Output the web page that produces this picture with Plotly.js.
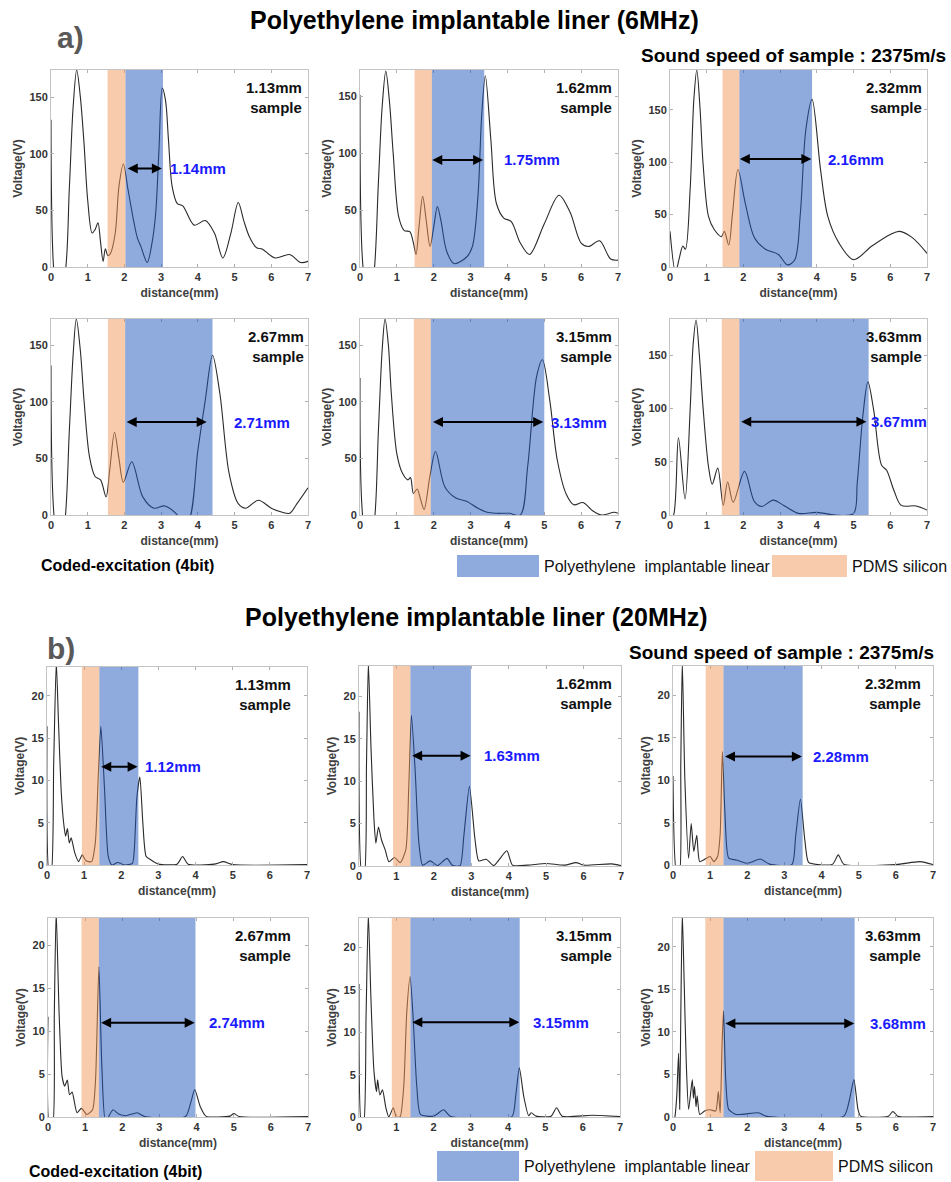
<!DOCTYPE html>
<html><head><meta charset="utf-8">
<script src="https://cdn.plot.ly/plotly-3.0.1.min.js"></script>
<style>body{margin:0;background:#fff}#chart{width:951px;height:1182px}</style>
</head><body><div id="chart"></div>
<script>
// ---------- data ----------
const a1Dist = [0,0.1,0.2,0.36,0.5,0.6,0.7,0.8,0.9,1.0,1.12,1.2,1.28,1.35,1.42,1.48,1.55,1.62,1.75,1.85,1.97,2.1,2.25,2.35,2.45,2.62,2.75,2.85,2.94,3.03,3.12,3.2,3.3,3.44,3.59,3.9,4.2,4.45,4.68,4.9,5.1,5.25,5.4,5.6,5.75,6.1,6.5,6.8,7.0];
const a1Volt = [130,-10,-20,-10,70,140,174,150,109,59,30,33,39,22,5,16,10,12,30,71,91,68,41,26,18,4,21,47,103,158,147,112,71,56,54,37,41,30,8,30,57,41,27,17,16,8,11,4,5];
const a2Dist = [0,0.12,0.25,0.36,0.5,0.6,0.7,0.8,0.9,1.05,1.2,1.35,1.45,1.52,1.6,1.7,1.8,1.9,2.0,2.1,2.2,2.35,2.55,2.9,3.05,3.2,3.3,3.4,3.55,3.7,3.9,4.1,4.35,4.6,5.0,5.4,5.7,6.0,6.2,6.5,6.8,7.0];
const a2Volt = [151,-10,-20,-10,75,140,172,145,100,44,32,31,21,11,35,62,40,18,35,53,40,14,3,9,18,62,132,168,112,56,43,40,21,11,38,63,48,21,18,23,7,6];
const a3Dist = [0,0.15,0.25,0.35,0.42,0.55,0.65,0.73,0.82,0.9,1.05,1.2,1.4,1.48,1.6,1.7,1.85,2.05,2.3,2.6,2.95,3.2,3.4,3.55,3.7,3.87,4.1,4.3,4.6,5.0,5.5,6.0,6.25,6.6,7.0];
const a3Volt = [34,-5,8,20,17,75,160,188,150,99,48,36,29,34,21,50,93,61,28,17,12,2,7,51,131,160,93,48,23,7,20,31,34,28,13];
const a4Dist = [0,0.12,0.25,0.36,0.5,0.6,0.69,0.8,0.9,1.05,1.2,1.35,1.5,1.6,1.73,1.85,1.97,2.2,2.5,2.8,3.1,3.4,3.55,3.74,4.0,4.2,4.4,4.6,4.85,5.1,5.3,5.65,6.0,6.3,6.5,6.7,7.0];
const a4Volt = [132,-10,-20,-10,75,140,173,145,101,51,34,31,16,40,73,50,29,47,16,6,8,1.5,-5,-5,57,101,141,107,37,10,6,13,6,2.4,1.5,10,24];
const a5Dist = [0,0.11,0.25,0.37,0.5,0.6,0.68,0.77,0.85,1.0,1.15,1.3,1.37,1.45,1.55,1.65,1.74,1.9,2.05,2.3,2.6,2.9,3.2,3.45,3.7,4.05,4.35,4.55,4.79,4.95,5.15,5.35,5.6,5.8,6.05,6.3,6.55,6.9,7.0];
const a5Volt = [121,-10,-20,-10,75,145,173,150,107,54,37,31,33,19,23,13,5,35,56,25,15,12,6,2.4,1.5,1.5,0,43,122,137,101,49,18,9,11,4,0,2.4,1.5];
const a6Dist = [0,0.1,0.23,0.41,0.55,0.63,0.71,0.8,0.9,1.05,1.15,1.3,1.45,1.57,1.72,2.03,2.3,2.5,2.81,3.1,3.5,4.0,4.5,5.0,5.1,5.25,5.39,5.55,5.76,5.9,6.1,6.3,6.7,7.0];
const a6Volt = [-5,0,72.5,15,100,160,183,150,101,45,29,44,9,31,12,41,12.5,8,14,9,1.5,2.5,0,1.5,30,92,125,98,47,42,23,9,8.5,4.7];

const b1Dist = [0,0.06,0.11,0.18,0.25,0.31,0.38,0.45,0.5,0.55,0.6,0.65,0.75,0.85,0.95,1.05,1.2,1.3,1.38,1.45,1.55,1.65,1.75,1.9,2.1,2.3,2.35,2.42,2.5,2.58,2.67,2.8,3.0,3.5,3.65,3.8,4.5,4.75,5.0,7.0];
const b1Volt = [16.4,-1,-1,12,24,16.8,8.9,4.9,3.4,4.3,2.6,3.2,1.4,0.4,1.2,0.5,0.4,2.6,10.5,16.4,8.9,1,0,0.3,0,0.2,1.8,8,10.4,5,1,0.6,0.1,0.1,1.0,0.1,0.1,0.4,0.05,0.05];
const b2Dist = [0,0.08,0.14,0.2,0.25,0.32,0.4,0.45,0.52,0.6,0.7,0.8,0.95,1.1,1.25,1.33,1.4,1.5,1.6,1.7,1.9,2.1,2.35,2.5,2.7,2.8,2.95,3.1,3.2,3.4,3.6,3.95,4.1,4.5,5.0,5.5,5.8,6.0,6.75,7.0];
const b2Volt = [18.2,-1,-1,12,24,14,5.5,2.7,4.6,3.1,1.9,0.5,1,0.4,1.9,9.4,17.8,11.3,2.7,0.1,0.6,0.05,0.9,0.05,0.05,3.5,9.4,3.1,0.6,0.8,0.05,1.8,0.1,0.1,0.3,0.1,0.4,0.1,0.25,0.05];
const b3Dist = [0,0.1,0.17,0.21,0.25,0.32,0.42,0.49,0.56,0.64,0.72,0.9,1.0,1.1,1.2,1.27,1.33,1.4,1.5,1.7,2.0,2.35,2.6,3.2,3.3,3.43,3.55,3.65,3.9,4.3,4.45,4.6,6.0,6.65,7.0];
const b3Volt = [10.5,-1,-1,12,24,10,0.8,4.9,1.6,3.5,0.4,0.8,1,0.4,1,3.7,13.4,6,0.8,0.6,0.2,0.7,0.1,0.05,3.3,7.8,2.9,0.3,0.05,0.1,1.2,0.1,0.05,0.4,0.05];
const b4Dist = [0,0.04,0.12,0.17,0.22,0.3,0.38,0.45,0.52,0.58,0.65,0.78,0.9,1.05,1.2,1.28,1.37,1.45,1.55,1.75,1.9,2.1,2.4,2.6,3.7,3.85,3.95,4.1,4.25,4.9,5.0,5.15,7.0];
const b4Volt = [11.7,-1,-1,12,24,12,4.7,3.6,4.3,2.6,2.9,0.5,1,0.3,0.85,4.3,17.5,5.9,-0.5,0.85,0.35,0.15,0.5,0.05,0.05,1.8,3.2,1.2,0.1,0.1,0.4,0.05,0.05];
const b5Dist = [0,0.07,0.12,0.19,0.25,0.32,0.4,0.47,0.5,0.56,0.63,0.72,0.8,0.92,1.0,1.1,1.2,1.28,1.37,1.45,1.55,1.65,2.0,2.27,2.45,4.1,4.2,4.3,4.42,4.55,4.62,4.75,5.15,5.3,5.45,6.25,7.0];
const b5Volt = [15.7,-1,-1,12,24,14,5.5,3.0,4.4,2.6,3.2,1.1,0,1.1,0,0,3.6,12.3,16.6,11.9,3.6,0.3,0.1,0.85,0.1,0.05,2.4,5.8,2.4,0.15,0.5,0.1,0.1,1.1,0.1,0.2,0.05];
const b6Dist = [0,0.05,0.1,0.15,0.18,0.21,0.25,0.3,0.36,0.42,0.52,0.55,0.58,0.62,0.65,0.72,0.85,1.0,1.15,1.22,1.27,1.32,1.36,1.42,1.5,1.7,2.3,2.5,4.6,4.75,4.87,4.98,5.05,5.8,5.92,6.05,7.0];
const b6Volt = [-0.5,0,2.4,7.5,0.9,12,24,16,6,0.9,4.4,2.2,3.6,1.2,2.5,0.3,0.7,0.85,0.7,3.0,0.5,8.3,12.5,4.4,0.9,0.3,0.5,0.1,0.1,2,4.4,0.9,0.1,0.1,0.65,0.1,0.05];

const distTicks = [0,1,2,3,4,5,6,7];
const voltTicks6MHz = [0,50,100,150];
const voltTicks20MHz = [0,5,10,15,20];
const sampleLabels = ['1.13mm','1.62mm','2.32mm','2.67mm','3.15mm','3.63mm'];
const thickness6MHz = ['1.14mm','1.75mm','2.16mm','2.71mm','3.13mm','3.67mm'];
const thickness20MHz = ['1.12mm','1.63mm','2.28mm','2.74mm','3.15mm','3.68mm'];
const pdmsStart6MHz = [1.54,1.48,1.43,1.55,1.46,1.41];
const linerStart6MHz = [2.03,1.95,1.89,2.02,1.92,1.89];
const linerEnd6MHz = [3.05,3.37,3.87,4.40,5.0,5.41];
const pdmsStart20MHz = [0.94,0.91,0.88,0.90,0.88,0.87];
const linerStart20MHz = [1.41,1.375,1.36,1.37,1.38,1.36];
const linerEnd20MHz = [2.46,2.99,3.49,3.97,4.31,4.89];
const arrowFrom6MHz = [2.05,1.92,1.86,2.02,1.94,1.9];
const arrowTo6MHz = [3.02,3.34,3.85,4.24,4.97,5.35];
const arrowLevel6MHz = [87,94,103,82,82,87.5];
const arrowFrom20MHz = [1.42,1.38,1.36,1.39,1.39,1.37];
const arrowTo20MHz = [2.44,2.98,3.47,3.95,4.3,4.88];
const arrowLevel20MHz = [11.6,13.0,12.8,11.0,11.2,11.0];

// ---------- layout constants ----------
const W = 951, H = 1182;
const FONT = 'Liberation Sans, Arial, sans-serif';
const boxes = [
  [51,308,70,267],[360,618,70,267],[670,927,70,267],
  [51,308,319,515],[360,618,319,515],[670,927,319,515],
  [47,307,667,865],[359,621,666,866],[673,933,666,865],
  [48,308,918,1117],[359,620,918,1117],[673,933,918,1117]
];
const yTop = [174,173,188,173,173,184,23.4,23.6,23.5,23.2,23.5,23.4];
const labelX6MHz = [3.2,3.85,4.26,4.92,5.13,5.42];
const labelX20MHz = [2.59,3.28,3.71,4.28,4.60,5.25];
const sampleShift = [-4,-4,-3,-2,-4,-3,-14,-7,-10,-15,-6,-10];
// translucent overlays that give #8FAADC / #F8CBAD over white
const LINER_FILL = 'rgba(31,85,185,0.5)';
const PDMS_FILL = 'rgba(241,151,91,0.5)';

const dists = [a1Dist,a2Dist,a3Dist,a4Dist,a5Dist,a6Dist,b1Dist,b2Dist,b3Dist,b4Dist,b5Dist,b6Dist];
const volts = [a1Volt,a2Volt,a3Volt,a4Volt,a5Volt,a6Volt,b1Volt,b2Volt,b3Volt,b4Volt,b5Volt,b6Volt];

const px = x => x / W, py = y => 1 - y / H;
const traces = [], shapes = [], annotations = [];
const layout = {
  width: W, height: H, margin: {l:0,r:0,t:0,b:0},
  paper_bgcolor: '#fff', plot_bgcolor: 'rgba(0,0,0,0)', showlegend: false,
  font: {family: FONT, color: '#333'}
};

for (let i = 0; i < 12; i++) {
  const n = i === 0 ? '' : String(i + 1);
  const is6 = i < 6, k = i % 6;
  const [l, r, t, b] = boxes[i];
  const axCommon = {
    showline: true, linecolor: '#c4c4c4', linewidth: 1, mirror: 'ticks',
    ticks: 'inside', ticklen: 3, tickcolor: '#b0b0b0', showgrid: false, zeroline: false,
    tickfont: {family: FONT, size: 11, color: '#333', weight: 'bold'}, fixedrange: true
  };
  layout['xaxis' + n] = Object.assign({}, axCommon, {
    domain: [px(l), px(r)], range: [0, 7], tickvals: distTicks, anchor: 'y' + n,
    title: {text: 'distance(mm)', font: {family: FONT, size: 12, color: '#404040', weight: 'bold'}, standoff: 6}
  });
  layout['yaxis' + n] = Object.assign({}, axCommon, {
    domain: [py(b), py(t)], range: [0, yTop[i]], tickvals: is6 ? voltTicks6MHz : voltTicks20MHz, anchor: 'x' + n,
    title: {text: 'Voltage(V)', font: {family: FONT, size: 12, color: '#404040', weight: 'bold'}, standoff: 4}
  });
  traces.push({
    x: dists[i], y: volts[i], xaxis: 'x' + n, yaxis: 'y' + n, type: 'scatter', mode: 'lines',
    line: {color: '#2a2a2a', width: 1.1, shape: 'spline', smoothing: is6 ? 0.9 : 0.6}, hoverinfo: 'skip'
  });
  const pS = is6 ? pdmsStart6MHz : pdmsStart20MHz;
  const lS = is6 ? linerStart6MHz : linerStart20MHz;
  const lE = is6 ? linerEnd6MHz : linerEnd20MHz;
  shapes.push({type:'rect', xref:'x'+n, yref:'y'+n+' domain', x0:pS[k], x1:lS[k], y0:0, y1:1,
    fillcolor:PDMS_FILL, line:{width:0}, layer:'above'});
  shapes.push({type:'rect', xref:'x'+n, yref:'y'+n+' domain', x0:lS[k], x1:lE[k], y0:0, y1:1,
    fillcolor:LINER_FILL, line:{width:0}, layer:'above'});
  const aF = is6 ? arrowFrom6MHz : arrowFrom20MHz;
  const aT = is6 ? arrowTo6MHz : arrowTo20MHz;
  const aL = is6 ? arrowLevel6MHz : arrowLevel20MHz;
  annotations.push({xref:'x'+n, yref:'y'+n, axref:'x'+n, ayref:'y'+n, x:aT[k], y:aL[k], ax:aF[k], ay:aL[k],
    text:'', showarrow:true, arrowhead:2, startarrowhead:2, arrowside:'end+start', arrowsize:1, startarrowsize:1,
    arrowwidth:2, arrowcolor:'#000'});
  annotations.push({xref:'x'+n, yref:'y'+n, x:(is6 ? labelX6MHz : labelX20MHz)[k], y:aL[k], xanchor:'left', yanchor:'middle',
    text:(is6 ? thickness6MHz : thickness20MHz)[k], showarrow:false,
    font:{family:FONT, size:15, color:'#1a1aff', weight:'bold'}});
  annotations.push({xref:'x'+n+' domain', yref:'y'+n+' domain', x:1, y:1, xanchor:'right', yanchor:'top',
    xshift: sampleShift[i], yshift:-7, align:'right', text: sampleLabels[k] + '<br>sample', showarrow:false,
    font:{family:FONT, size:15, color:'#111', weight:'bold'}});
}

// titles and free text
function txt(text, x, y, size, opts) {
  annotations.push(Object.assign({xref:'paper', yref:'paper', x:px(x), y:py(y), text, showarrow:false,
    xanchor:'center', yanchor:'middle', font:{family:FONT, size, color:'#000', weight:'bold'}}, opts || {}));
}
txt('Polyethylene implantable liner (6MHz)', 474, 20, 25);
txt('Polyethylene implantable liner (20MHz)', 476, 617, 25);
txt('a)', 55, 38, 30, {xanchor:'left', font:{family:FONT, size:30, color:'#595959', weight:'bold'}});
txt('b)', 45, 648, 30, {xanchor:'left', font:{family:FONT, size:30, color:'#595959', weight:'bold'}});
txt('Sound speed of sample : 2375m/s', 948, 56, 19, {xanchor:'right'});
txt('Sound speed of sample : 2375m/s', 936, 652, 19, {xanchor:'right'});
txt('Coded-excitation (4bit)', 39, 565, 16, {xanchor:'left'});
txt('Coded-excitation (4bit)', 27, 1171, 16, {xanchor:'left'});

// material key
function key(x0, x1, y0, y1, color, label) {
  shapes.push({type:'rect', xref:'paper', yref:'paper', x0:px(x0), x1:px(x1), y0:py(y1), y1:py(y0),
    fillcolor:color, line:{width:0}});
  annotations.push({xref:'paper', yref:'paper', x:px(x1 + 3), y:py((y0 + y1) / 2), xanchor:'left', yanchor:'middle',
    text:label, showarrow:false, font:{family:FONT, size:16, color:'#111'}});
}
key(457, 539, 555, 577, '#8FAADC', 'Polyethylene&nbsp;&nbsp;implantable linear');
key(772, 847, 555, 577, '#F8CBAD', 'PDMS silicon');
key(437, 519, 1151, 1181, '#8FAADC', 'Polyethylene&nbsp;&nbsp;implantable linear');
key(755, 833, 1151, 1181, '#F8CBAD', 'PDMS silicon');

layout.shapes = shapes;
layout.annotations = annotations;
Plotly.newPlot('chart', traces, layout, {displayModeBar: false, staticPlot: true});
</script>
</body></html>
